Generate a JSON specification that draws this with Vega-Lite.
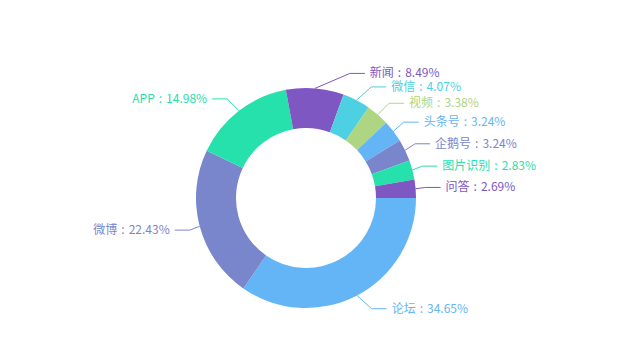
{
  "$schema": "https://vega.github.io/schema/vega-lite/v6.json",
  "width": 632,
  "height": 356,
  "autosize": "none",
  "padding": 0,
  "background": "white",
  "config": {"view": {"stroke": null}},
  "data": {
    "values": [
      {"name": "论坛", "value": 34.65},
      {"name": "微博", "value": 22.43},
      {"name": "APP", "value": 14.98},
      {"name": "新闻", "value": 8.49},
      {"name": "微信", "value": 4.07},
      {"name": "视频", "value": 3.38},
      {"name": "头条号", "value": 3.24},
      {"name": "企鹅号", "value": 3.24},
      {"name": "图片识别", "value": 2.83},
      {"name": "问答", "value": 2.69}
    ]
  },
  "transform": [
    {"window": [{"op": "row_number", "as": "k"}]},
    {"joinaggregate": [{"op": "sum", "field": "value", "as": "total"}]},
    {"window": [{"op": "sum", "field": "value", "as": "e"}], "sort": [{"field": "k"}], "frame": [null, 0]},
    {"calculate": "datum.e - datum.value", "as": "s"},
    {"calculate": "2 * PI * (datum.s + datum.value / 2) / datum.total", "as": "a"},
    {"calculate": "110 * cos(datum.a)", "as": "x0"},
    {"calculate": "110 * sin(datum.a)", "as": "y0"},
    {"calculate": "125 * sin(datum.a)", "as": "y1"},
    {"calculate": "cos(datum.a) >= 0 ? 1 : -1", "as": "dir"},
    {"calculate": "datum.dir * sqrt(140 * 140 - datum.y1 * datum.y1)", "as": "xt"},
    {"calculate": "datum.xt - datum.dir * 5", "as": "x2"},
    {"calculate": "datum.x2 - datum.dir * 15", "as": "x1"},
    {"calculate": "datum.name + '\u2004:\u2004' + format(datum.value, '.2f') + '%'", "as": "label"}
  ],
  "encoding": {
    "color": {
      "field": "name",
      "type": "nominal",
      "legend": null,
      "scale": {
        "domain": ["论坛", "微博", "APP", "新闻", "微信", "视频", "头条号", "企鹅号", "图片识别", "问答"],
        "range": ["#64b5f6", "#7986cb", "#27e1ac", "#7e57c2", "#4dd0e1", "#aed581", "#64b5f6", "#7986cb", "#27e1ac", "#7e57c2"]
      }
    }
  },
  "layer": [
    {
      "mark": {"type": "arc", "outerRadius": 110, "innerRadius": 70},
      "encoding": {
        "x": {"datum": 0, "type": "quantitative", "axis": null, "scale": {"domain": [-306, 326], "nice": false, "zero": false}},
        "y": {"datum": 0, "type": "quantitative", "axis": null, "scale": {"domain": [-198, 158], "reverse": true, "nice": false, "zero": false}},
        "theta": {"field": "s", "type": "quantitative", "stack": null, "scale": {"domain": [0, 100], "range": [1.5707963, 7.8539816]}},
        "theta2": {"field": "e"}
      }
    },
    {
      "mark": {"type": "rule", "strokeWidth": 1},
      "encoding": {
        "x": {"field": "x0", "type": "quantitative", "axis": null, "scale": {"domain": [-306, 326], "nice": false, "zero": false}},
        "y": {"field": "y0", "type": "quantitative", "axis": null, "scale": {"domain": [-198, 158], "reverse": true, "nice": false, "zero": false}},
        "x2": {"field": "x1"},
        "y2": {"field": "y1"}
      }
    },
    {
      "mark": {"type": "rule", "strokeWidth": 1},
      "encoding": {
        "x": {"field": "x1", "type": "quantitative"},
        "y": {"field": "y1", "type": "quantitative"},
        "x2": {"field": "x2"},
        "y2": {"field": "y1"}
      }
    },
    {
      "transform": [{"filter": "datum.dir > 0"}],
      "mark": {"type": "text", "align": "left", "baseline": "middle", "font": "Noto Sans CJK SC", "fontSize": 12},
      "encoding": {
        "x": {"field": "xt", "type": "quantitative"},
        "y": {"field": "y1", "type": "quantitative"},
        "text": {"field": "label"}
      }
    },
    {
      "transform": [{"filter": "datum.dir < 0"}],
      "mark": {"type": "text", "align": "right", "baseline": "middle", "font": "Noto Sans CJK SC", "fontSize": 12},
      "encoding": {
        "x": {"field": "xt", "type": "quantitative"},
        "y": {"field": "y1", "type": "quantitative"},
        "text": {"field": "label"}
      }
    }
  ]
}
